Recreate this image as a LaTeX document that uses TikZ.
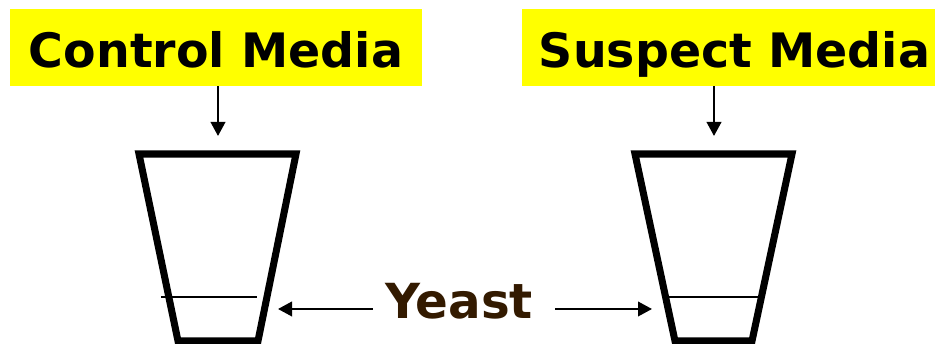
\documentclass[tikz,border=0pt]{standalone}
\usepackage{fontspec}
\setmainfont{DejaVu Sans}
\usetikzlibrary{arrows.meta}
\definecolor{mdyellow}{HTML}{FFFF00}
\definecolor{mdbrown}{HTML}{331A00}

\begin{document}
\begin{tikzpicture}[
            media/.style={fill=mdyellow, inner sep=0pt, minimum width=8.24cm, minimum height=1.54cm,
                text height=25pt, text depth=2pt, font=\fontsize{27}{32}\selectfont\bfseries},
            cup/.style={line width=4pt, line join=miter},
            level/.style={line width=1.4pt},
            arrow/.style={-{Triangle[length=0.28cm, width=0.29cm]}, line width=1.3pt},
            label/.style={font=\fontsize{27.5}{32}\selectfont\bfseries, text=mdbrown, inner sep=0pt}
        ]
            \useasboundingbox (0,0) rectangle (18.7,6.88);

            % Media labels
            \node[media] (ctrl) at (4.32,5.93) {Control Media};
            \node[media, minimum width=8.5cm] (susp) at (14.69,5.93) {Suspect Media};

            % Cups
            \draw[cup] (2.78,3.80) -- (5.92,3.80) -- (5.16,0.06) -- (3.56,0.06) -- cycle;
            \draw[cup] (12.70,3.80) -- (15.84,3.80) -- (15.04,0.06) -- (13.50,0.06) -- cycle;

            % Yeast levels
            \draw[level] (3.22,0.94) -- (5.14,0.94);
            \draw[level] (13.34,0.94) -- (15.22,0.94);

            % Inlets and walls
            \coordinate (lin) at (4.36,4.16);
            \coordinate (rin) at (14.28,4.16);
            \coordinate (lwall) at (5.56,0.70);
            \coordinate (rwall) at (13.04,0.70);

            % Media into cups
            \draw[arrow] (ctrl.south -| lin) -- (lin);
            \draw[arrow] (susp.south -| rin) -- (rin);

            % Yeast
            \node[label] (yeast) at (9.18,0.85) {Yeast};
            \draw[arrow] ([xshift=-0.24cm]yeast.west |- lwall) -- (lwall);
            \draw[arrow] ([xshift=0.44cm]yeast.east |- rwall) -- (rwall);
        \end{tikzpicture}
\end{document}
